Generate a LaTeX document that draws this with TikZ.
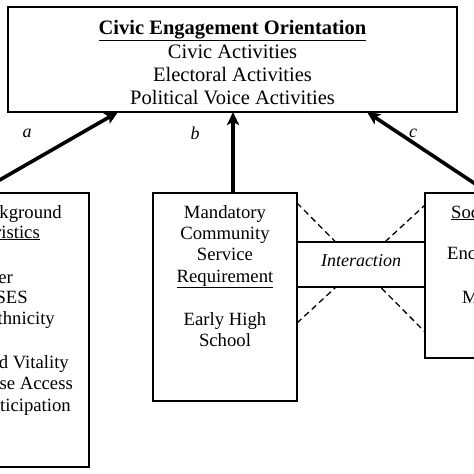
\documentclass[tikz,border=0pt]{standalone}
\usepackage{fontspec}
\setmainfont{Liberation Serif}
\usetikzlibrary{arrows.meta}
\begin{document}
\begin{tikzpicture}[x=1pt,y=-1pt,
  box/.style={draw, line width=1.6pt, fill=white, inner sep=0pt},
  txt/.style={font=\fontsize{18.7}{21}\selectfont, inner sep=0pt},
  big/.style={font=\fontsize{20.5}{23}\selectfont, inner sep=0pt},
  lab/.style={font=\fontsize{18}{20}\selectfont\itshape, inner sep=0pt},
  arr/.style={line width=3.6pt, -{Stealth[length=13pt,width=12pt,inset=3pt]}},
  dsh/.style={line width=1.3pt, dash pattern=on 6pt off 4pt}
]
\useasboundingbox (0,0) rectangle (474,474);
\clip (0,0) rectangle (474,474);
\fill[white] (0,0) rectangle (474,474);

% boxes
\node[box, minimum width=449pt, minimum height=105pt] (top) at (232.5,59.5) {};
\node[box, minimum width=149pt, minimum height=274pt] (left) at (14.5,330) {};
\node[box, minimum width=144pt, minimum height=208pt] (mid) at (225,297) {};
\node[box, minimum width=144pt, minimum height=165pt] (right) at (497,275.5) {};

% top text
\node[big, anchor=base, font=\fontsize{20.5}{23}\selectfont\bfseries] (t0) at (232.5,34) {\underline{Civic Engagement Orientation}};
\node[big, anchor=base] (t1) at (232.5,58) {Civic Activities};
\node[big, anchor=base] (t2) at (232.5,81) {Electoral Activities};
\node[big, anchor=base] (t3) at (232.5,104) {Political Voice Activities};

% left text
\node[txt, anchor=base east] (l1) at (62,218) {Background};
\node[txt, anchor=base east] (l2) at (40,238) {\underline{Characteristics}};
\node[txt, anchor=base east] (l3) at (13,283) {Gender};
\node[txt, anchor=base east] (l4) at (28,303) {SES};
\node[txt, anchor=base east] (l5) at (55,324) {Race/Ethnicity};
\node[txt, anchor=base east] (l6) at (69,368) {Neighborhood Vitality};
\node[txt, anchor=base east] (l7) at (73,389) {Course Access};
\node[txt, anchor=base east] (l8) at (71,411) {Participation};

% middle text
\node[txt, anchor=base] (m1) at (225,218) {Mandatory};
\node[txt, anchor=base] (m2) at (225,239) {Community};
\node[txt, anchor=base] (m3) at (225,260) {Service};
\node[txt, anchor=base] (m4) at (225,282) {\underline{Requirement}};
\node[txt, anchor=base] (m5) at (225,325) {Early High};
\node[txt, anchor=base] (m6) at (225,346) {School};

% right text
\node[txt, anchor=base west] (r1) at (451,218) {\underline{Socialization}};
\node[txt, anchor=base west] (r2) at (447,259) {Encouragement};
\node[txt, anchor=base west] (r3) at (462,303) {Modeling};

% dashed interaction lines
\coordinate (d1s) at (297,203);
\coordinate (d1e) at (425,332);
\coordinate (d2s) at (297,323);
\coordinate (d2e) at (425,205);
\draw[dsh] (d1s) -- (d1e);
\draw[dsh] (d2s) -- (d2e);

% interaction box
\node[box, minimum width=128pt, minimum height=45pt] (inter) at (361,264.5) {};
\node[lab, anchor=base] (it) at (361,266.5) {Interaction};

% arrows
\coordinate (as) at (-23,193);
\coordinate (ae) at (118,112);
\coordinate (bs) at (233,193);
\coordinate (be) at (233,112);
\coordinate (cs) at (489,193);
\coordinate (ce) at (367,112);
\draw[arr] (as) -- (ae);
\draw[arr] (bs) -- (be);
\draw[arr] (cs) -- (ce);

% labels
\node[lab] (la) at (27,133) {a};
\node[lab] (lb) at (195,133) {b};
\node[lab] (lc) at (413,133) {c};
\end{tikzpicture}
\end{document}
